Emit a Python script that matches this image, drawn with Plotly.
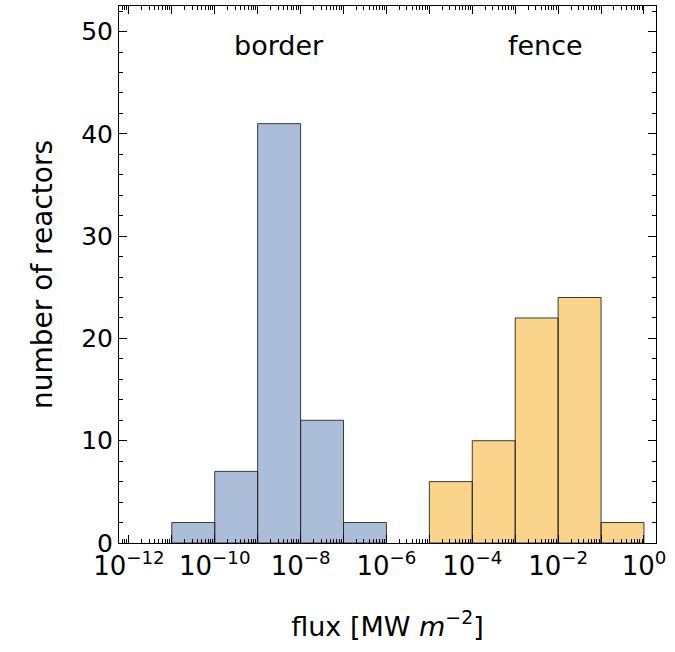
import plotly.graph_objects as go

# Histogram of flux per reactor: bins are one decade wide (edges as log10 exponents)
border_edges = [-11, -10, -9, -8, -7, -6]
border_counts = [2, 7, 41, 12, 2]
fence_edges = [-5, -4, -3, -2, -1, 0]
fence_counts = [6, 10, 22, 24, 2]

tick_exps = list(range(-12, 1))
tick_labels = [f"10<sup>{'−' if e < 0 else ''}{abs(e)}</sup>" if e % 2 == 0 else "" for e in tick_exps]
y_ticks = [0, 10, 20, 30, 40, 50]


def bar_outline(edges, counts):
    xs, ys = [], []
    for lo, hi, c in zip(edges[:-1], edges[1:], counts):
        xs += [10.0 ** lo, 10.0 ** lo, 10.0 ** hi, 10.0 ** hi, 10.0 ** lo, None]
        ys += [0, c, c, 0, 0, None]
    return xs, ys


fig = go.Figure()
for edges, counts, fill in [
    (border_edges, border_counts, "rgb(171,189,217)"),
    (fence_edges, fence_counts, "rgb(251,212,140)"),
]:
    xs, ys = bar_outline(edges, counts)
    fig.add_trace(go.Scatter(
        x=xs, y=ys, mode="lines", fill="toself", fillcolor=fill,
        line=dict(color="rgba(40,40,40,0.9)", width=1), hoverinfo="skip",
        showlegend=False,
    ))

fig.add_annotation(x=-8.5, y=48.6, xref="x", yref="y", text="border", showarrow=False,
                   font=dict(size=27, color="black"))
fig.add_annotation(x=-2.3, y=48.6, xref="x", yref="y", text="fence", showarrow=False,
                   font=dict(size=27, color="black"))

minor_vals = [k * 10.0 ** e for e in range(-13, 1) for k in range(2, 10)]

fig.update_layout(
    width=675, height=652,
    margin=dict(l=119, r=19, t=6, b=109),
    plot_bgcolor="white", paper_bgcolor="white",
    font=dict(family="DejaVu Sans, sans-serif", color="black"),
    xaxis=dict(
        type="log", range=[-12.23, 0.28],
        tickmode="array", tickvals=[10.0 ** e for e in tick_exps], ticktext=tick_labels,
        ticks="inside", ticklen=8, tickwidth=1, tickcolor="black",
        minor=dict(tickmode="array", tickvals=minor_vals, ticks="inside", ticklen=4,
                   tickwidth=1, tickcolor="black", showgrid=False),
        showline=True, linecolor="black", linewidth=1, mirror="allticks",
        showgrid=False, zeroline=False,
        tickfont=dict(size=26),
        title=dict(text="flux [MW <i>m</i><sup>−2</sup>]", font=dict(size=27), standoff=36),
    ),
    yaxis=dict(
        range=[0, 52.5],
        tickmode="array", tickvals=y_ticks,
        ticks="inside", ticklen=8, tickwidth=1, tickcolor="black",
        minor=dict(dtick=2, ticks="inside", ticklen=4, tickwidth=1, tickcolor="black",
                   showgrid=False),
        showline=True, linecolor="black", linewidth=1, mirror="allticks",
        showgrid=False, zeroline=False,
        tickfont=dict(size=25),
        title=dict(text="number of reactors", font=dict(size=28), standoff=20),
    ),
)

fig.write_html("out.html")
